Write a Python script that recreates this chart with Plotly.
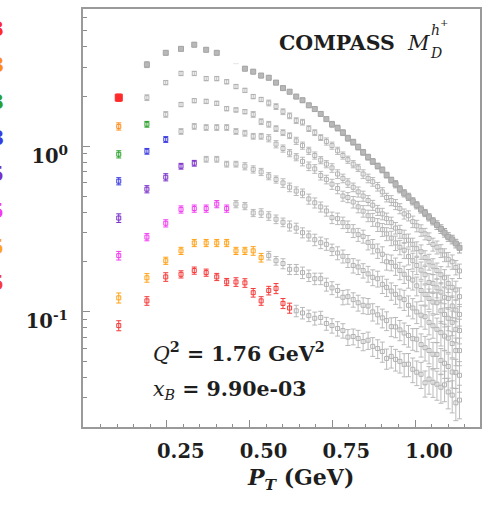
import plotly.graph_objects as go

# transverse-momentum bin centres (GeV)
pt = [0.105, 0.190, 0.247, 0.293, 0.333, 0.369, 0.401, 0.431, 0.459, 0.486, 0.511, 0.535, 0.558,
      0.580, 0.601, 0.621, 0.641, 0.660, 0.679, 0.697, 0.715, 0.732, 0.749, 0.766, 0.782, 0.797,
      0.813, 0.828, 0.843, 0.858, 0.872, 0.887, 0.901, 0.914, 0.928, 0.941, 0.954, 0.967, 0.980,
      0.993, 1.005, 1.018, 1.030, 1.042, 1.054, 1.066, 1.078, 1.089, 1.100, 1.112, 1.123, 1.134]

z_labels = ["z=0.23", "z=0.28", "z=0.33", "z=0.38", "z=0.45", "z=0.55", "z=0.65", "z=0.75"]

# multiplicities per z bin
m_z1 = [1.97, 3.12, 3.68, 3.89, 4.12, 3.84, 3.68, 3.50, 3.28, 2.95, 2.83, 2.68, 2.60,
        2.43, 2.25, 2.14, 2.00, 1.90, 1.77, 1.68, 1.57, 1.46, 1.36, 1.29, 1.21, 1.12,
        1.06, 0.99, 0.92, 0.86, 0.81, 0.76, 0.72, 0.67, 0.625, 0.59, 0.55, 0.52, 0.495,
        0.465, 0.44, 0.415, 0.395, 0.372, 0.352, 0.334, 0.316, 0.300, 0.283, 0.273, 0.258, 0.243]
m_z2 = [1.32, 1.97, 2.43, 2.76, 2.76, 2.57, 2.57, 2.46, 2.30, 2.18, 2.00, 1.92, 1.83,
        1.74, 1.62, 1.53, 1.43, 1.40, 1.28, 1.21, 1.13, 1.07, 1.01, 0.94, 0.88, 0.83,
        0.78, 0.74, 0.68, 0.64, 0.61, 0.57, 0.53, 0.49, 0.47, 0.445, 0.42, 0.39, 0.38,
        0.35, 0.33, 0.31, 0.295, 0.277, 0.255, 0.245, 0.233, 0.22, 0.207, 0.20, 0.185, 0.176]
m_z3 = [0.895, 1.36, 1.56, 1.79, 1.89, 1.87, 1.82, 1.69, 1.66, 1.62, 1.56, 1.41, 1.36,
        1.28, 1.21, 1.16, 1.08, 1.01, 0.94, 0.88, 0.825, 0.78, 0.74, 0.68, 0.64, 0.60,
        0.565, 0.53, 0.50, 0.47, 0.44, 0.41, 0.39, 0.365, 0.345, 0.32, 0.305, 0.285, 0.27,
        0.255, 0.24, 0.23, 0.212, 0.20, 0.188, 0.177, 0.167, 0.16, 0.148, 0.14, 0.135, 0.123]
m_z4 = [0.615, 0.933, 1.10, 1.23, 1.32, 1.30, 1.30, 1.30, 1.23, 1.20, 1.15, 1.15, 1.12,
        1.03, 0.97, 0.91, 0.86, 0.81, 0.758, 0.73, 0.665, 0.63, 0.59, 0.555, 0.50, 0.49,
        0.46, 0.43, 0.405, 0.38, 0.36, 0.335, 0.313, 0.295, 0.278, 0.26, 0.245, 0.235, 0.215,
        0.203, 0.19, 0.178, 0.167, 0.15, 0.148, 0.139, 0.131, 0.122, 0.12, 0.108, 0.102, 0.096]
m_z5 = [0.368, 0.55, 0.65, 0.758, 0.79, 0.835, 0.835, 0.78, 0.78, 0.758, 0.725, 0.70, 0.66,
        0.63, 0.60, 0.565, 0.536, 0.52, 0.48, 0.455, 0.43, 0.406, 0.37, 0.365, 0.345, 0.327,
        0.308, 0.292, 0.285, 0.262, 0.248, 0.233, 0.222, 0.20, 0.198, 0.188, 0.177, 0.168, 0.159,
        0.155, 0.143, 0.134, 0.127, 0.12, 0.114, 0.113, 0.101, 0.096, 0.091, 0.086, 0.078, 0.0767]
m_z6 = [0.218, 0.282, 0.342, 0.415, 0.42, 0.42, 0.447, 0.42, 0.447, 0.435, 0.395, 0.395, 0.379,
        0.362, 0.347, 0.33, 0.32, 0.30, 0.287, 0.272, 0.261, 0.255, 0.237, 0.226, 0.216, 0.203,
        0.19, 0.186, 0.177, 0.169, 0.161, 0.158, 0.146, 0.14, 0.133, 0.127, 0.121, 0.118, 0.109,
        0.105, 0.0994, 0.095, 0.093, 0.086, 0.082, 0.078, 0.0745, 0.071, 0.069, 0.064, 0.058, 0.058]
m_z7 = [0.121, 0.16, 0.203, 0.233, 0.26, 0.26, 0.26, 0.26, 0.233, 0.233, 0.233, 0.212, 0.218,
        0.203, 0.195, 0.18, 0.18, 0.172, 0.165, 0.158, 0.158, 0.146, 0.139, 0.134, 0.122, 0.123,
        0.118, 0.113, 0.109, 0.108, 0.0995, 0.0955, 0.0915, 0.0881, 0.081, 0.0807, 0.0774, 0.0741, 0.0716,
        0.0685, 0.068, 0.0631, 0.0604, 0.0581, 0.0551, 0.055, 0.0506, 0.0486, 0.0465, 0.043, 0.0428, 0.0411]
m_z8 = [0.0822, 0.116, 0.162, 0.168, 0.177, 0.172, 0.162, 0.151, 0.151, 0.149, 0.13, 0.116, 0.134,
        0.138, 0.112, 0.105, 0.101, 0.098, 0.0944, 0.091, 0.092, 0.0846, 0.0822, 0.0789, 0.0767, 0.070,
        0.0706, 0.0687, 0.0658, 0.067, 0.0615, 0.0597, 0.0573, 0.052, 0.0535, 0.0513, 0.0499, 0.0479, 0.048,
        0.0447, 0.0429, 0.0417, 0.037, 0.039, 0.0373, 0.0363, 0.0348, 0.036, 0.0326, 0.0312, 0.028, 0.0291]

# relative uncertainties (%)
e_z1 = [5, 4, 3, 3, 3, 3, 3, 3, 3, 3, 3, 3, 3,
        3, 3, 3, 3, 3, 3, 3, 3, 3, 4, 4, 4, 4,
        4, 4, 4, 4, 4, 4, 4, 4, 4, 5, 5, 5, 5,
        5, 5, 5, 5, 5, 5, 6, 6, 6, 6, 6, 6, 7]
e_z2 = [5, 4, 3, 3, 3, 3, 3, 3, 3, 3, 3, 3, 4,
        4, 4, 4, 4, 4, 4, 4, 4, 5, 5, 5, 5, 5,
        5, 5, 6, 6, 6, 6, 6, 6, 7, 7, 7, 7, 7,
        8, 8, 8, 8, 8, 9, 9, 9, 9, 10, 10, 10, 10]
e_z3 = [5, 4, 4, 3, 3, 3, 3, 3, 3, 3, 4, 4, 4,
        4, 4, 4, 5, 5, 5, 5, 5, 5, 6, 6, 6, 6,
        6, 7, 7, 7, 7, 7, 8, 8, 8, 8, 9, 9, 9,
        9, 10, 10, 10, 11, 11, 11, 12, 12, 12, 13, 13, 13]
e_z4 = [5, 4, 4, 4, 4, 4, 4, 4, 4, 4, 4, 4, 5,
        5, 5, 5, 5, 6, 6, 6, 6, 6, 7, 7, 7, 7,
        8, 8, 8, 8, 9, 9, 9, 9, 10, 10, 10, 11, 11,
        11, 12, 12, 12, 13, 13, 13, 14, 14, 14, 15, 15, 15]
e_z5 = [6, 5, 5, 4, 4, 4, 4, 4, 4, 5, 5, 5, 5,
        5, 6, 6, 6, 6, 7, 7, 7, 7, 8, 8, 8, 8,
        9, 9, 9, 10, 10, 10, 11, 11, 11, 12, 12, 12, 13,
        13, 13, 14, 14, 14, 15, 15, 16, 16, 16, 17, 17, 17]
e_z6 = [6, 5, 5, 5, 5, 5, 5, 5, 5, 5, 5, 6, 6,
        6, 6, 7, 7, 7, 7, 8, 8, 8, 8, 9, 9, 9,
        10, 10, 10, 11, 11, 11, 12, 12, 12, 13, 13, 14, 14,
        14, 15, 15, 16, 16, 16, 17, 17, 18, 18, 18, 19, 19]
e_z7 = [7, 6, 5, 5, 5, 5, 5, 5, 5, 5, 6, 6, 6,
        6, 7, 7, 7, 8, 8, 8, 8, 9, 9, 9, 10, 10,
        10, 11, 11, 11, 12, 12, 13, 13, 13, 14, 14, 15, 15,
        15, 16, 16, 17, 17, 18, 18, 18, 19, 19, 20, 20, 21]
e_z8 = [7, 6, 6, 5, 5, 5, 5, 5, 6, 6, 6, 6, 6,
        7, 7, 7, 8, 8, 8, 9, 9, 9, 10, 10, 10, 11,
        11, 12, 12, 12, 13, 13, 14, 14, 15, 15, 15, 16, 16,
        17, 17, 18, 18, 19, 19, 20, 20, 21, 21, 22, 22, 23]

# number of low-PT points inside the fit range for each z bin
n_fit = [1, 1, 2, 3, 5, 8, 12, 16]
z_colors = ["#ff2a2a", "#ff8c1a", "#2ca02c", "#3a3ae0", "#7a2fc8", "#f03cf0", "#ffa31a", "#f53a3a"]

series = [m_z1, m_z2, m_z3, m_z4, m_z5, m_z6, m_z7, m_z8]
errors = [e_z1, e_z2, e_z3, e_z4, e_z5, e_z6, e_z7, e_z8]
for s, e in zip(series, errors):
    assert len(s) == len(pt) and len(e) == len(pt)

GRAY = "#b2b2b2"
SERIF = "DejaVu Serif"
INK = "#1e1e1e"

fig = go.Figure()


def add_points(x, y, e, color, symbol, size, fill=None, thick=1):
    fig.add_trace(go.Scatter(
        x=x, y=y, mode="markers",
        marker=dict(symbol=symbol, size=size, color=fill or color,
                    line=dict(color=color, width=1)),
        error_y=dict(type="data", array=[v * p / 100 for v, p in zip(y, e)],
                     color=color, thickness=thick, width=2.5),
        showlegend=False, hoverinfo="skip"))


# points outside the fit range (gray), highest z first so the top band stays on top
for i in range(7, 0, -1):
    n = n_fit[i]
    add_points(pt[n:], series[i][n:], errors[i][n:], GRAY, "square-open", 4, thick=0.9)
add_points(pt[1:], m_z1[1:], e_z1[1:], "#a6a6a6", "square", 5, fill="#b8b8b8")

# points inside the fit range, coloured per z bin
for i in range(8):
    n = n_fit[i]
    if i == 0:
        add_points(pt[:n], series[i][:n], errors[i][:n], z_colors[i], "square", 7)
    else:
        add_points(pt[:n], series[i][:n], errors[i][:n], z_colors[i], "square-open", 4)

L, R, T, B = 83, 11, 7, 78
W, H = 491, 505
pw, ph = W - L - R, H - T - B


def px(xp):
    return (xp - L) / pw


def py(yp):
    return (H - B - yp) / ph


# white panel behind the experiment label
fig.add_shape(type="rect", xref="paper", yref="paper",
              x0=px(222), x1=px(478), y0=py(62), y1=py(9),
              fillcolor="white", line=dict(width=0), layer="above")

ann = []
ann.append(dict(x=px(277), y=py(41), text="COMPASS", xanchor="left", yanchor="middle",
                font=dict(family=SERIF, size=20.5, color=INK, weight="bold")))
ann.append(dict(x=px(405), y=py(41), text="<i>M</i>", xanchor="left", yanchor="middle",
                font=dict(family=SERIF, size=21, color=INK)))
ann.append(dict(x=px(428), y=py(51), text="<i>D</i>", xanchor="left", yanchor="middle",
                font=dict(family=SERIF, size=14, color=INK)))
ann.append(dict(x=px(429), y=py(28), text="<i>h</i>", xanchor="left", yanchor="middle",
                font=dict(family=SERIF, size=14, color=INK)))
ann.append(dict(x=px(438), y=py(21), text="+", xanchor="left", yanchor="middle",
                font=dict(family=SERIF, size=10, color=INK)))

ann.append(dict(x=px(151), y=py(352),
                text="<span style='font-weight:normal'><i>Q</i></span><sup>2</sup> = 1.76 GeV<sup>2</sup>",
                xanchor="left", yanchor="middle",
                font=dict(family=SERIF, size=20.5, color=INK, weight="bold")))
ann.append(dict(x=px(151), y=py(390),
                text="<span style='font-weight:normal'><i>x</i><sub><i>B</i></sub></span> = 9.90e-03",
                xanchor="left", yanchor="middle",
                font=dict(family=SERIF, size=20.5, color=INK, weight="bold")))
ann.append(dict(x=px(300), y=py(479),
                text="<i>P</i><sub><i>T</i></sub> (GeV)",
                xanchor="center", yanchor="middle",
                font=dict(family=SERIF, size=22, color=INK, weight="bold")))

for i, lab in enumerate(z_labels):
    ann.append(dict(x=px(6), y=py(27 + 36.5 * i), text=lab, xanchor="right", yanchor="middle",
                    font=dict(family=SERIF, size=20, color=z_colors[i], weight="bold")))

for a in ann:
    a.update(xref="paper", yref="paper", showarrow=False)

y_minor = [0.02, 0.03, 0.04, 0.05, 0.06, 0.07, 0.08, 0.09,
           0.2, 0.3, 0.4, 0.5, 0.6, 0.7, 0.8, 0.9,
           2, 3, 4, 5, 6]

fig.update_layout(
    width=W, height=H,
    margin=dict(l=L, r=R, t=T, b=B),
    paper_bgcolor="white", plot_bgcolor="white",
    annotations=ann,
    xaxis=dict(range=[-0.003, 1.196], showgrid=False, zeroline=False,
               tickvals=[0.25, 0.5, 0.75, 1.0], ticktext=["0.25", "0.50", "0.75", "1.00"],
               ticks="inside", ticklen=7, tickwidth=1, tickcolor="#8c8c8c",
               minor=dict(dtick=0.05, tick0=0, ticks="inside", ticklen=3.5,
                          tickcolor="#8c8c8c", showgrid=False),
               showline=True, linecolor="#9a9a9a", linewidth=2, mirror=True,
               tickfont=dict(family=SERIF, size=19.5, color=INK, weight="bold"),
               ticklabelshift=14, ticklabelstandoff=6),
    yaxis=dict(type="log", range=[-1.699, 0.831], showgrid=False, zeroline=False,
               tickvals=[0.1, 1], ticktext=["10<sup>-1</sup>", "10<sup>0</sup>"],
               ticks="inside", ticklen=7, tickwidth=1, tickcolor="#8c8c8c",
               minor=dict(tickmode="array", tickvals=y_minor, ticks="inside", ticklen=3.5,
                          tickcolor="#8c8c8c", showgrid=False),
               showline=True, linecolor="#9a9a9a", linewidth=2, mirror=True,
               tickfont=dict(family=SERIF, size=19.5, color=INK, weight="bold"),
               ticklabelshift=10, ticklabelstandoff=9),
)

fig.write_html("out.html")
